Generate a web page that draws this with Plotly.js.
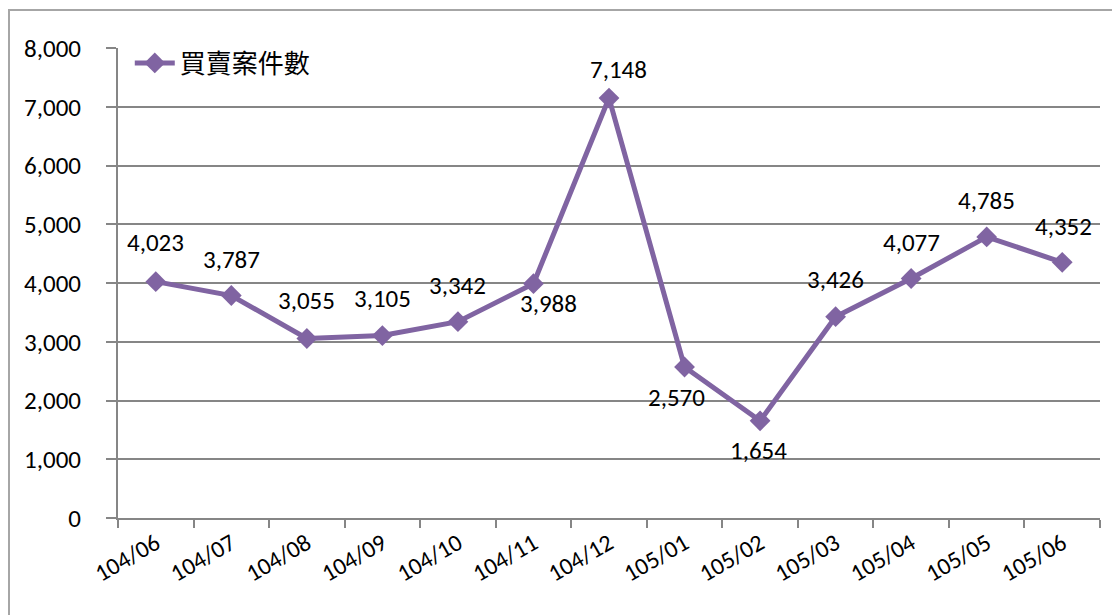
<!DOCTYPE html>
<html>
<head>
<meta charset="utf-8">
<script src="https://cdn.plot.ly/plotly-3.0.1.min.js"></script>
<style>
html,body{margin:0;padding:0;background:#fff;}
#frame{position:absolute;left:8px;top:9px;width:1110px;height:620px;border-left:2px solid #a6a6a6;border-top:2px solid #a6a6a6;}
#chart{position:absolute;left:0;top:0;width:1112px;height:615px;}
</style>
</head>
<body>
<div id="frame"></div>
<div id="chart"></div>
<script>
const months = ["104/06","104/07","104/08","104/09","104/10","104/11","104/12","105/01","105/02","105/03","105/04","105/05","105/06"];
const cases = [4023, 3787, 3055, 3105, 3342, 3988, 7148, 2570, 1654, 3426, 4077, 4785, 4352];
const seriesName = "買賣案件數";
const labelXShift = [0, 0, 0, 0, 0, 15, 9, -8, -2, 0, 0, 0, 1];
const labelYShift = [39, 36, 38, 37, 36, -20, 29, -30, -30, 37, 36, 36, 36];

const color = "#8064A2";
const font = "Carlito, 'Open Sans', 'Noto Sans CJK TC', sans-serif";

const annotations = months.map((m, i) => ({
  x: m, y: cases[i], xref: "x", yref: "y",
  text: cases[i].toLocaleString("en-US"),
  showarrow: false, xshift: labelXShift[i], yshift: labelYShift[i],
  font: {family: font, size: 25, color: "#000"}
}));

Plotly.newPlot("chart", [{
  type: "scatter", mode: "lines+markers",
  x: months, y: cases, name: seriesName,
  line: {color: color, width: 5},
  marker: {symbol: "diamond", size: 16, color: color}
}], {
  width: 1112, height: 615,
  margin: {l: 118, r: 12, t: 48, b: 97},
  paper_bgcolor: "rgba(0,0,0,0)", plot_bgcolor: "rgba(0,0,0,0)",
  showlegend: true,
  legend: {x: 0.012, y: 1.018, xanchor: "left", yanchor: "top", bgcolor: "rgba(0,0,0,0)",
    font: {family: "'Noto Sans CJK TC', sans-serif", size: 26, color: "#000"},
    itemwidth: 40, tracegroupgap: 0},
  xaxis: {type: "category", range: [-0.5, 12.5], autorange: false, tickson: "boundaries", showgrid: false,
    showline: true, linecolor: "#868686", linewidth: 2,
    ticks: "outside", ticklen: 8, tickcolor: "#868686", tickwidth: 2,
    tickangle: -30, tickfont: {family: font, size: 24, color: "#000"}, zeroline: false},
  yaxis: {range: [0, 8000], autorange: false, dtick: 1000, tickformat: ",",
    showgrid: true, gridcolor: "#868686", gridwidth: 2,
    showline: true, linecolor: "#868686", linewidth: 2,
    ticks: "outside", ticklen: 10, tickcolor: "#868686", tickwidth: 2,
    ticklabelstandoff: 20,
    zeroline: false, tickfont: {family: font, size: 25, color: "#000"}},
  annotations: annotations
}, {displayModeBar: false});
</script>
</body>
</html>
